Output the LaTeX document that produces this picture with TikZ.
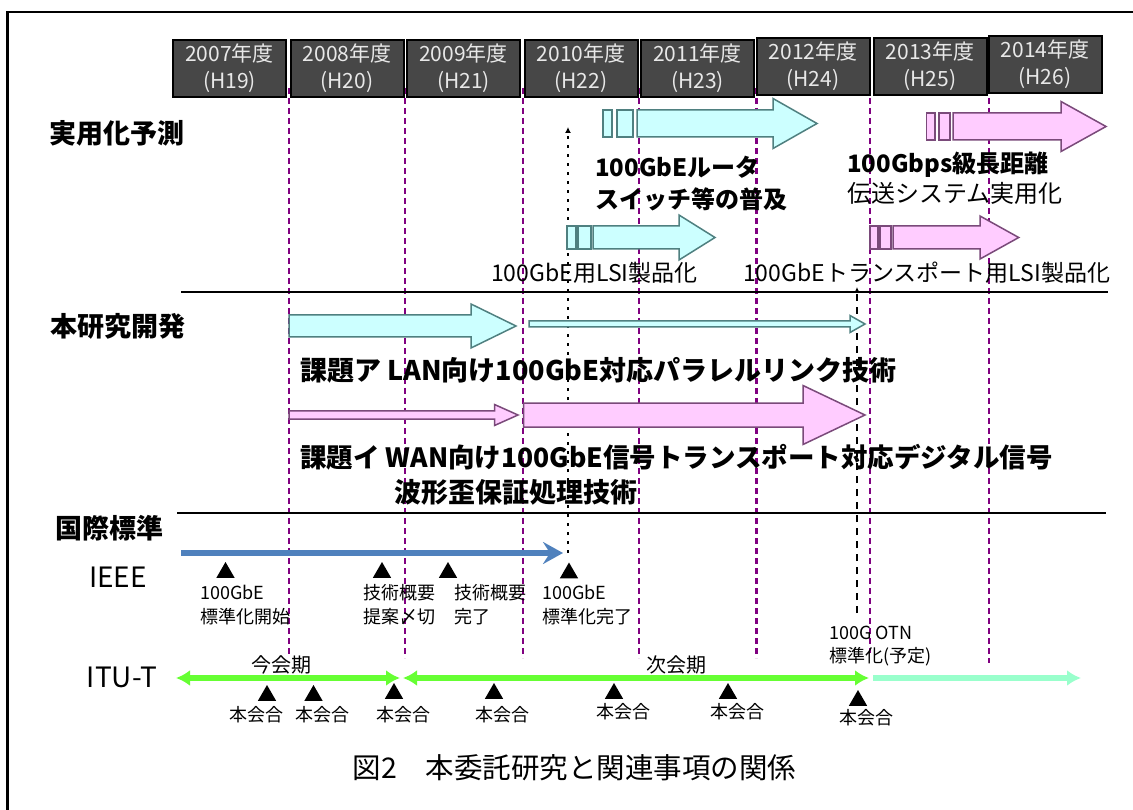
\documentclass[tikz,border=0pt]{standalone}
\usepackage{fontspec}
\setmainfont{Noto Sans CJK JP}
\usetikzlibrary{arrows.meta,shapes.geometric}
\definecolor{cyanfill}{HTML}{CCFFFF}
\definecolor{cyanline}{HTML}{4F8080}
\definecolor{pinkfill}{HTML}{FFCCFF}
\definecolor{pinkline}{HTML}{7A4A7A}
\definecolor{ieeeblue}{HTML}{4F81BD}
\definecolor{itugreen}{HTML}{66FF33}
\definecolor{ituaqua}{HTML}{99FFCC}
\definecolor{yearpurple}{HTML}{800080}
\definecolor{boxgray}{HTML}{474747}
\definecolor{boxtext}{HTML}{E8E8E8}
\newcommand\setfs[2]{\fontsize{#1}{#2}\selectfont}
% block arrow: x0, xhead, xtip, yc, halfbody, halfhead, style
\newcommand\myarrow[7]{\draw[#7] (#1,#4-#5) -- (#2,#4-#5) -- (#2,#4-#6) -- (#3,#4) -- (#2,#4+#6) -- (#2,#4+#5) -- (#1,#4+#5) -- cycle;}
% stripe: x0, x1, yc, half, style
\newcommand\mystripe[5]{\draw[#5] (#1,#3-#4) rectangle (#2,#3+#4);}
\tikzset{
  every node/.style={inner sep=0pt},
  yearbox/.style={draw=black, line width=2pt, fill=boxgray, text=boxtext, minimum width=113pt, minimum height=57pt, align=center, font=\setfs{21}{27}},
  seclab/.style={font=\setfs{27}{32}\bfseries},
  orglab/.style={font=\setfs{28}{32}},
  boldlab/.style={font=\setfs{24}{32}\bfseries, align=left, anchor=west},
  reglab/.style={font=\setfs{23}{30}, anchor=west},
  heavylab/.style={font=\setfs{27}{32}\bfseries, anchor=west},
  smalllab/.style={font=\setfs{18}{24}, align=left, anchor=west},
  meetlab/.style={font=\setfs{18}{22}},
  termlab/.style={font=\setfs{20}{24}},
  tri/.style={regular polygon, regular polygon sides=3, fill=black, minimum size=21pt},
  yearline/.style={draw=yearpurple, line width=2pt, dash pattern=on 6pt off 4pt},
  sepline/.style={draw=black, line width=1.5pt},
  cyanarr/.style={fill=cyanfill, draw=cyanline, line width=1.5pt, line join=miter},
  pinkarr/.style={fill=pinkfill, draw=pinkline, line width=1.5pt, line join=miter},
}
\begin{document}
\begin{tikzpicture}[x=1pt,y=-1pt]
\useasboundingbox (0,0) rectangle (1133,810);
\clip (0,0) rectangle (1133,810);
\fill[white] (0,0) rectangle (1133,810);
% frame
\draw[black, line width=2.5pt] (7.6,830) -- (7.6,12) -- (1150,12);

% purple year dividers
\coordinate (p1t) at (289,88);   \coordinate (p1b) at (289,655);
\coordinate (p2t) at (405,88);   \coordinate (p2b) at (405,658);
\coordinate (p3t) at (522.5,88); \coordinate (p3b) at (522.5,658);
\coordinate (p4t) at (638.6,88); \coordinate (p4b) at (638.6,658);
\coordinate (p5t) at (756,88);   \coordinate (p5b) at (756,658);
\coordinate (p6t) at (870,88);   \coordinate (p6b) at (870,653);
\coordinate (p7t) at (988.7,88); \coordinate (p7b) at (988.7,663);
\draw[yearline] (p1t) -- (p1b);
\draw[yearline] (p2t) -- (p2b);
\draw[yearline] (p3t) -- (p3b);
\draw[yearline] (p4t) -- (p4b);
\draw[yearline, line width=3pt] (p5t) -- (p5b);
\draw[yearline] (p6t) -- (p6b);
\draw[yearline] (p7t) -- (p7b);

% year boxes
\node[yearbox] (y2007) at (229.5,68.5) {2007年度\\(H19)};
\node[yearbox] (y2008) at (347,68.5) {2008年度\\(H20)};
\node[yearbox] (y2009) at (463.5,68.5) {2009年度\\(H21)};
\node[yearbox] (y2010) at (581,68.5) {2010年度\\(H22)};
\node[yearbox] (y2011) at (697.5,68.5) {2011年度\\(H23)};
\node[yearbox] (y2012) at (813,66.5) {2012年度\\(H24)};
\node[yearbox] (y2013) at (930,66.5) {2013年度\\(H25)};
\node[yearbox] (y2014) at (1045,64.5) {2014年度\\(H26)};

% separators
\coordinate (s1a) at (181,292); \coordinate (s1b) at (1108,292);
\coordinate (s2a) at (177,513); \coordinate (s2b) at (1106,513);
\draw[sepline] (s1a) -- (s1b);
\draw[sepline] (s2a) -- (s2b);

% dotted and dashed guide lines
\coordinate (dotB) at (568,553); \coordinate (dotT) at (568,127);
\coordinate (dashB) at (857,613); \coordinate (dashT) at (857,287);
\draw[black, line width=2.5pt, dash pattern=on 3pt off 6pt, -{Latex[length=6pt,width=6pt]}] (dotB) -- (dotT);
\draw[black, line width=1.5pt, dash pattern=on 7pt off 6pt, -{Latex[length=6pt,width=6pt]}] (dashB) -- (dashT);

% section labels
\node[seclab] (jitsuyo) at (116.5,133) {実用化予測};
\node[seclab] (honken) at (118,326) {本研究開発};
\node[seclab] (kokusai) at (109,528) {国際標準};
\node[orglab] (ieee) at (118,577) {IEEE};
\node[orglab] (itut) at (122,677) {ITU-T};

% practical-use forecast arrows
\mystripe{603}{612}{123.5}{13.5}{cyanarr}
\mystripe{617}{633}{123.5}{13.5}{cyanarr}
\myarrow{637}{773}{817}{123.5}{13.5}{25}{cyanarr}
\mystripe{926.6}{935}{126.5}{13.5}{pinkarr}
\mystripe{939}{950}{126.5}{13.5}{pinkarr}
\myarrow{953}{1061}{1106}{126.5}{13.5}{25}{pinkarr}
\mystripe{567}{576}{237.5}{11.5}{cyanarr}
\mystripe{578}{591}{237.5}{11.5}{cyanarr}
\myarrow{593}{679}{715}{237.5}{11.5}{22.5}{cyanarr}
\mystripe{870}{878}{237.5}{11.5}{pinkarr}
\mystripe{880}{891}{237.5}{11.5}{pinkarr}
\myarrow{893}{980}{1018.7}{237.5}{11.5}{21.5}{pinkarr}

\node[boldlab] (lab1) at (595,184) {100GbEルータ\\スイッチ等の普及};
\node[font=\setfs{24}{30}, align=left, anchor=west] (lab2) at (847,178) {{\bfseries 100Gbps級長距離}\\伝送システム実用化};
\node[reglab] (lab3) at (491,273) {100GbE用LSI製品化};
\node[reglab] (lab4) at (743,273) {100GbEトランスポート用LSI製品化};

% R&D arrows
\myarrow{289}{471}{516}{326}{11}{22}{cyanarr}
\myarrow{529}{850}{865}{324}{3}{8.5}{cyanarr}
\myarrow{289}{494.5}{518}{415}{4.2}{10.5}{pinkarr}
\myarrow{523.6}{803}{865}{415}{12}{29.5}{pinkarr}

\node[heavylab] (kadaiA) at (300,370) {課題ア LAN向け100GbE対応パラレルリンク技術};
\node[heavylab, font=\setfs{26.5}{32}\bfseries] (kadaiI) at (300,457) {課題イ WAN向け100GbE信号トランスポート対応デジタル信号};
\node[heavylab] (kadaiI2) at (394.5,492) {波形歪保証処理技術};

% IEEE
\coordinate (ieeeS) at (181,553); \coordinate (ieeeE) at (563,553);
\draw[ieeeblue, line width=5.5pt, -{Stealth[length=20pt,width=22pt,inset=7pt]}] (ieeeS) -- (ieeeE);
\node[tri] (it1) at (225.5,572.5) {};
\node[tri] (it2) at (382,572.5) {};
\node[tri] (it3) at (448,572.5) {};
\node[tri] (it4) at (569,573) {};
\node[smalllab] (ie1) at (200,605) {100GbE\\標準化開始};
\node[smalllab] (ie2) at (363,605) {技術概要\\提案〆切};
\node[smalllab] (ie3) at (454.5,605) {技術概要\\完了};
\node[smalllab] (ie4) at (542,605) {100GbE\\標準化完了};
\node[smalllab, font=\setfs{18}{23}] (otn) at (829,646.5) {100G OTN\\標準化(予定)};

% ITU-T
\coordinate (itu1S) at (176,678); \coordinate (itu1E) at (400,678);
\coordinate (itu2S) at (403,678); \coordinate (itu2E) at (869,678);
\coordinate (itu3S) at (873,678); \coordinate (itu3E) at (1081,678);
\draw[itugreen, line width=6pt, {Latex[length=14pt,width=16pt]}-{Latex[length=14pt,width=16pt]}] (itu1S) -- (itu1E);
\draw[itugreen, line width=6pt, {Latex[length=14pt,width=16pt]}-{Latex[length=14pt,width=16pt]}] (itu2S) -- (itu2E);
\draw[ituaqua, line width=6pt, -{Latex[length=14pt,width=16pt]}] (itu3S) -- (itu3E);
\node[termlab] (konkai) at (281,665) {今会期};
\node[termlab] (jikai) at (676,665) {次会期};
\node[tri] (mt1) at (267,695.5) {};
\node[tri] (mt2) at (313.5,695.5) {};
\node[tri] (mt3) at (394,693.5) {};
\node[tri] (mt4) at (494,693.5) {};
\node[tri] (mt5) at (614,693.5) {};
\node[tri] (mt6) at (728,693.5) {};
\node[tri] (mt7) at (858,700.5) {};
\node[meetlab] (h1) at (256,715) {本会合};
\node[meetlab] (h2) at (322,715) {本会合};
\node[meetlab] (h3) at (403,715) {本会合};
\node[meetlab] (h4) at (502.7,715) {本会合};
\node[meetlab] (h5) at (623.5,712) {本会合};
\node[meetlab] (h6) at (737.6,712) {本会合};
\node[meetlab] (h7) at (866,718) {本会合};

% caption
\node[font=\setfs{28.5}{32}] (caption) at (574.5,768) {図2　本委託研究と関連事項の関係};
\end{tikzpicture}
\end{document}
